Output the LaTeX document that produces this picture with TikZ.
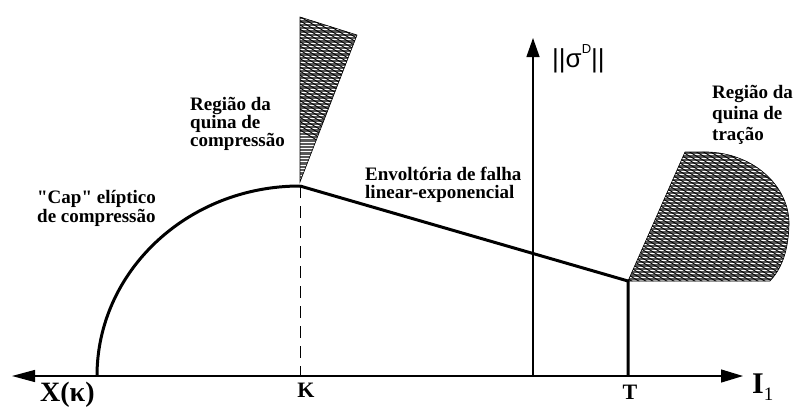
\documentclass[tikz,border=0pt]{standalone}
\usepackage{fontspec}
\setmainfont{Liberation Serif}
\newfontfamily\qfont{Liberation Serif}
\newfontfamily\arialf{Liberation Sans}
\usetikzlibrary{arrows.meta}
\newcommand\sq{{\qfont\bfseries\symbol{34}}}
\begin{document}
\begin{tikzpicture}[x=1pt,y=-1pt,
  lbl/.style={anchor=base west,inner sep=0pt,font=\fontsize{19}{19}\selectfont\bfseries},
  axislab/.style={inner sep=0pt,font=\fontsize{22}{22}\selectfont\bfseries},
  axisline/.style={line width=1.3pt},
  thickl/.style={line width=3pt},
  region/.style={draw=black,line width=0.6pt},
  hatchh/.style={white,line width=0.9pt},
  hatchd/.style={black,line width=0.9pt},
  dashline/.style={line width=0.8pt,dash pattern=on 12pt off 8pt}]
\useasboundingbox (0,0) rectangle (795,408);

% key points
\coordinate (L) at (12,376);
\coordinate (R) at (743,376);
\coordinate (V0) at (533,376);
\coordinate (Vt) at (533,38);
\coordinate (C0) at (97,376);
\coordinate (K) at (300,186);
\coordinate (K0) at (300,376);
\coordinate (T) at (628,281);
\coordinate (T0) at (628,376);

% compression corner region
\begin{scope}
  \clip (300,17) -- (357,35) -- (300,182) -- cycle;
  \fill[black!65] (290,10) rectangle (360,190);
  \foreach \y in {10,13.3,...,190} \draw[hatchh] (290,\y) -- (360,\y);
  \foreach \x in {100,107,...,360} \draw[hatchd] (\x,10) -- ++(300,180);
\end{scope}
\draw[region] (300,17) -- (357,35) -- (300,182) -- cycle;

% tension corner region
\begin{scope}
  \clip (T) -- (685,152) -- (700,152) .. controls (752,150) and (790,186) .. (789,225)
        .. controls (788,255) and (780,270) .. (770,281) -- cycle;
  \fill[black!65] (620,145) rectangle (795,285);
  \foreach \y in {145,148.3,...,285} \draw[hatchh] (620,\y) -- (795,\y);
  \foreach \x in {300,307,...,795} \draw[hatchd] (\x,145) -- ++(300,180);
\end{scope}
\draw[region] (T) -- (685,152) -- (700,152) .. controls (752,150) and (790,186) .. (789,225)
        .. controls (788,255) and (780,270) .. (770,281) -- cycle;

% axes
\draw[axisline,{Triangle[length=23pt,width=12pt]}-{Triangle[length=22pt,width=13pt]}] (L) -- (R);
\draw[axisline,-{Triangle[length=19pt,width=13pt]}] (V0) -- (Vt);

% yield surface
\draw[thickl] (C0) .. controls (97,271) and (188,186) .. (K);
\draw[thickl,line join=miter] (K) -- (T) -- (T0);
\draw[dashline] (K) -- (K0);

% labels
\node[lbl] (c1) at (190,110) {Região da};
\node[lbl] (c2) at (190,128) {quina de};
\node[lbl] (c3) at (190,146) {compressão};

\node[lbl] (e1) at (37,203) {\sq Cap\sq{} elíptico};
\node[lbl] (e2) at (37,222) {de compressão};

\node[lbl] (f1) at (365,180) {Envoltória de falha};
\node[lbl] (f2) at (365,198) {linear-exponencial};

\node[lbl] (t1) at (712,98) {Região da};
\node[lbl] (t2) at (712,119) {quina de};
\node[lbl] (t3) at (712,140) {tração};

\node[anchor=base west,inner sep=0pt,font=\arialf\fontsize{26}{26}\selectfont] (sig) at (552,67)
  {||σ\raisebox{14pt}{\fontsize{13}{13}\selectfont D}||};

\node[anchor=base west,inner sep=0pt,font=\fontsize{28}{28}\selectfont\bfseries] (xk) at (40,401) {X(κ)};
\node[axislab,anchor=base] (kl) at (306,397) {K};
\node[axislab,anchor=base] (tl) at (630,399) {T};
\node[anchor=base west,inner sep=0pt,font=\fontsize{30}{30}\selectfont\bfseries] (il) at (752,393)
  {I\raisebox{-7pt}{\fontsize{19}{19}\selectfont\mdseries 1}};
\end{tikzpicture}
\end{document}
